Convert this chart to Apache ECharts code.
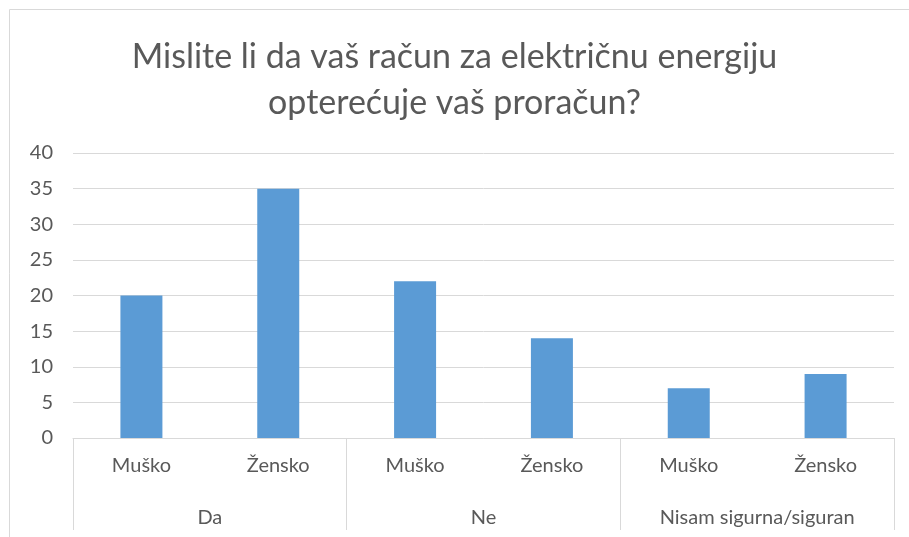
<!DOCTYPE html>
<html>
<head>
<meta charset="utf-8">
<script src="https://cdn.jsdelivr.net/npm/echarts@6/dist/echarts.min.js"></script>
<style>
  html, body { margin: 0; padding: 0; background: #fff; }
  #main { width: 909px; height: 537px; }
</style>
</head>
<body>
<div id="main"></div>
<script>
// podaci
var spol = ['Muško', 'Žensko', 'Muško', 'Žensko', 'Muško', 'Žensko'];
var odgovori = ['Da', 'Ne', 'Nisam sigurna/siguran'];
var broj = [20, 35, 22, 14, 7, 9];
var yTicks = [0, 5, 10, 15, 20, 25, 30, 35, 40];

var font = 'Lato, "Open Sans", sans-serif';
var txt = '#595959';
var line = '#d9d9d9';

var myChart = echarts.init(document.getElementById('main'));

myChart.setOption({
  animation: false,
  title: {
    text: 'Mislite li da vaš račun za električnu energiju\nopterećuje vaš proračun?',
    left: 'center',
    top: 29,
    textStyle: { fontFamily: font, fontSize: 34, fontWeight: 'normal', color: txt, lineHeight: 46 }
  },
  graphic: [{
    type: 'rect',
    shape: { x: 9.5, y: 9.5, width: 910, height: 540 },
    style: { fill: 'none', stroke: line, lineWidth: 1 },
    silent: true
  }],
  grid: { left: 73, right: 15, top: 153, bottom: 99 },
  xAxis: [{
    type: 'category',
    data: spol,
    position: 'bottom',
    axisLine: { lineStyle: { color: line, width: 1 } },
    axisTick: { show: false },
    axisLabel: { fontFamily: font, fontSize: 20, color: txt, margin: 18, interval: 0 }
  }, {
    type: 'category',
    data: odgovori,
    position: 'bottom',
    axisLine: { show: false },
    axisTick: { show: true, length: 92, interval: 0, lineStyle: { color: line, width: 1 } },
    axisLabel: { fontFamily: font, fontSize: 20, color: txt, margin: 70, interval: 0 }
  }],
  yAxis: {
    type: 'value',
    min: yTicks[0],
    max: yTicks[yTicks.length - 1],
    interval: 5,
    axisLine: { show: false },
    axisTick: { show: false },
    splitLine: { lineStyle: { color: line, width: 1 } },
    axisLabel: { fontFamily: font, fontSize: 20, color: txt, margin: 20 }
  },
  series: [{
    type: 'bar',
    xAxisIndex: 0,
    data: broj,
    barWidth: 42,
    itemStyle: { color: '#5b9bd5' }
  }]
});
</script>
</body>
</html>
